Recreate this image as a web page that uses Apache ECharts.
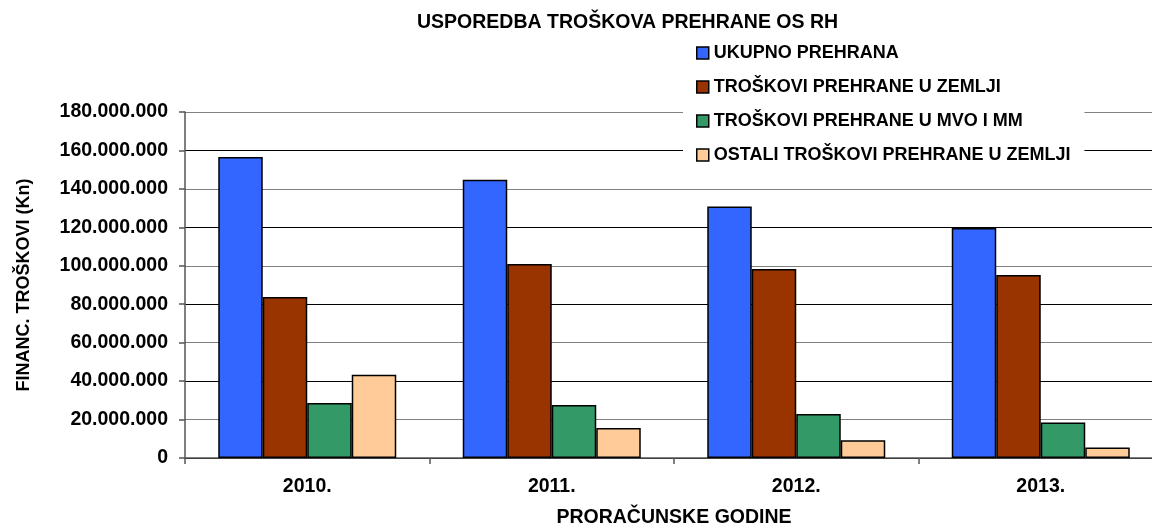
<!DOCTYPE html>
<html>
<head>
<meta charset="utf-8">
<script src="https://cdn.jsdelivr.net/npm/echarts@6/dist/echarts.min.js"></script>
<style>
html,body{margin:0;padding:0;background:#fff;}
#chart{width:1152px;height:524px;}
</style>
</head>
<body>
<div id="chart"></div>
<script>
const categories = ['2010.', '2011.', '2012.', '2013.'];
const seriesNames = ['UKUPNO PREHRANA', 'TROŠKOVI PREHRANE U ZEMLJI', 'TROŠKOVI PREHRANE U MVO I MM', 'OSTALI TROŠKOVI PREHRANE U ZEMLJI'];
const ukupno = [156600000, 144800000, 130900000, 119700000];
const zemlja = [83700000, 100900000, 98300000, 95200000];
const mvo = [28600000, 27600000, 22900000, 18500000];
const ostali = [43300000, 15600000, 9200000, 5500000];
const colors = ['#3366FF', '#993300', '#339966', '#FFCC99'];
const FONT = '"Liberation Sans", Arial, sans-serif';

function fmt(v) {
  return String(Math.round(v)).replace(/\B(?=(\d{3})+(?!\d))/g, '.');
}

const chart = echarts.init(document.getElementById('chart'), null, {renderer: 'canvas'});
const data = [ukupno, zemlja, mvo, ostali];
chart.setOption({
  animation: false,
  backgroundColor: '#fff',
  title: {
    text: 'USPOREDBA TROŠKOVA PREHRANE OS RH',
    left: 417, top: 13, padding: 0,
    textStyle: {fontFamily: FONT, fontSize: 19.5, fontWeight: 'bold', color: '#000'}
  },
  legend: {
    orient: 'vertical',
    left: 683, top: 35,
    padding: [9, 14, 9, 13],
    backgroundColor: '#fff',
    itemWidth: 12, itemHeight: 12, itemGap: 16,
    icon: 'rect',
    itemStyle: {borderColor: '#000', borderWidth: 1.5},
    textStyle: {fontFamily: FONT, fontSize: 18, fontWeight: 'bold', color: '#000', lineHeight: 18},
    data: seriesNames
  },
  grid: {left: 185, top: 112, width: 978, height: 346, containLabel: false, outerBoundsMode: 'none'},
  xAxis: {
    type: 'category',
    data: categories,
    name: 'PRORAČUNSKE GODINE',
    nameLocation: 'middle',
    nameGap: 50,
    nameTextStyle: {fontFamily: FONT, fontSize: 19.5, fontWeight: 'bold', color: '#000'},
    axisLine: {lineStyle: {color: '#555', width: 1.5}},
    axisTick: {show: true, length: 6, inside: false, lineStyle: {color: '#555', width: 1.5}},
    axisLabel: {margin: 19, fontFamily: FONT, fontSize: 19.5, fontWeight: 'bold', color: '#000'},
    splitLine: {show: false}
  },
  yAxis: {
    type: 'value',
    min: 0, max: 180000000, interval: 20000000,
    name: 'FINANC. TROŠKOVI (Kn)',
    nameLocation: 'middle',
    nameGap: 152,
    nameRotate: 90,
    nameTextStyle: {fontFamily: FONT, fontSize: 18, fontWeight: 'bold', color: '#000'},
    axisLine: {show: true, lineStyle: {color: '#555', width: 1.5}},
    axisTick: {show: true, length: 6, inside: false, lineStyle: {color: '#555', width: 1.5}},
    axisLabel: {margin: 17, fontFamily: FONT, fontSize: 19.5, fontWeight: 'bold', color: '#000', formatter: fmt},
    splitLine: {show: true, lineStyle: {color: ['#000', '#808080'], width: 1}}
  },
  series: seriesNames.map((n, i) => ({
    name: n,
    type: 'bar',
    data: data[i],
    barWidth: 44.5,
    barGap: '0%',
    itemStyle: {color: colors[i], borderColor: '#000', borderWidth: 1.5}
  }))
});
</script>
</body>
</html>
